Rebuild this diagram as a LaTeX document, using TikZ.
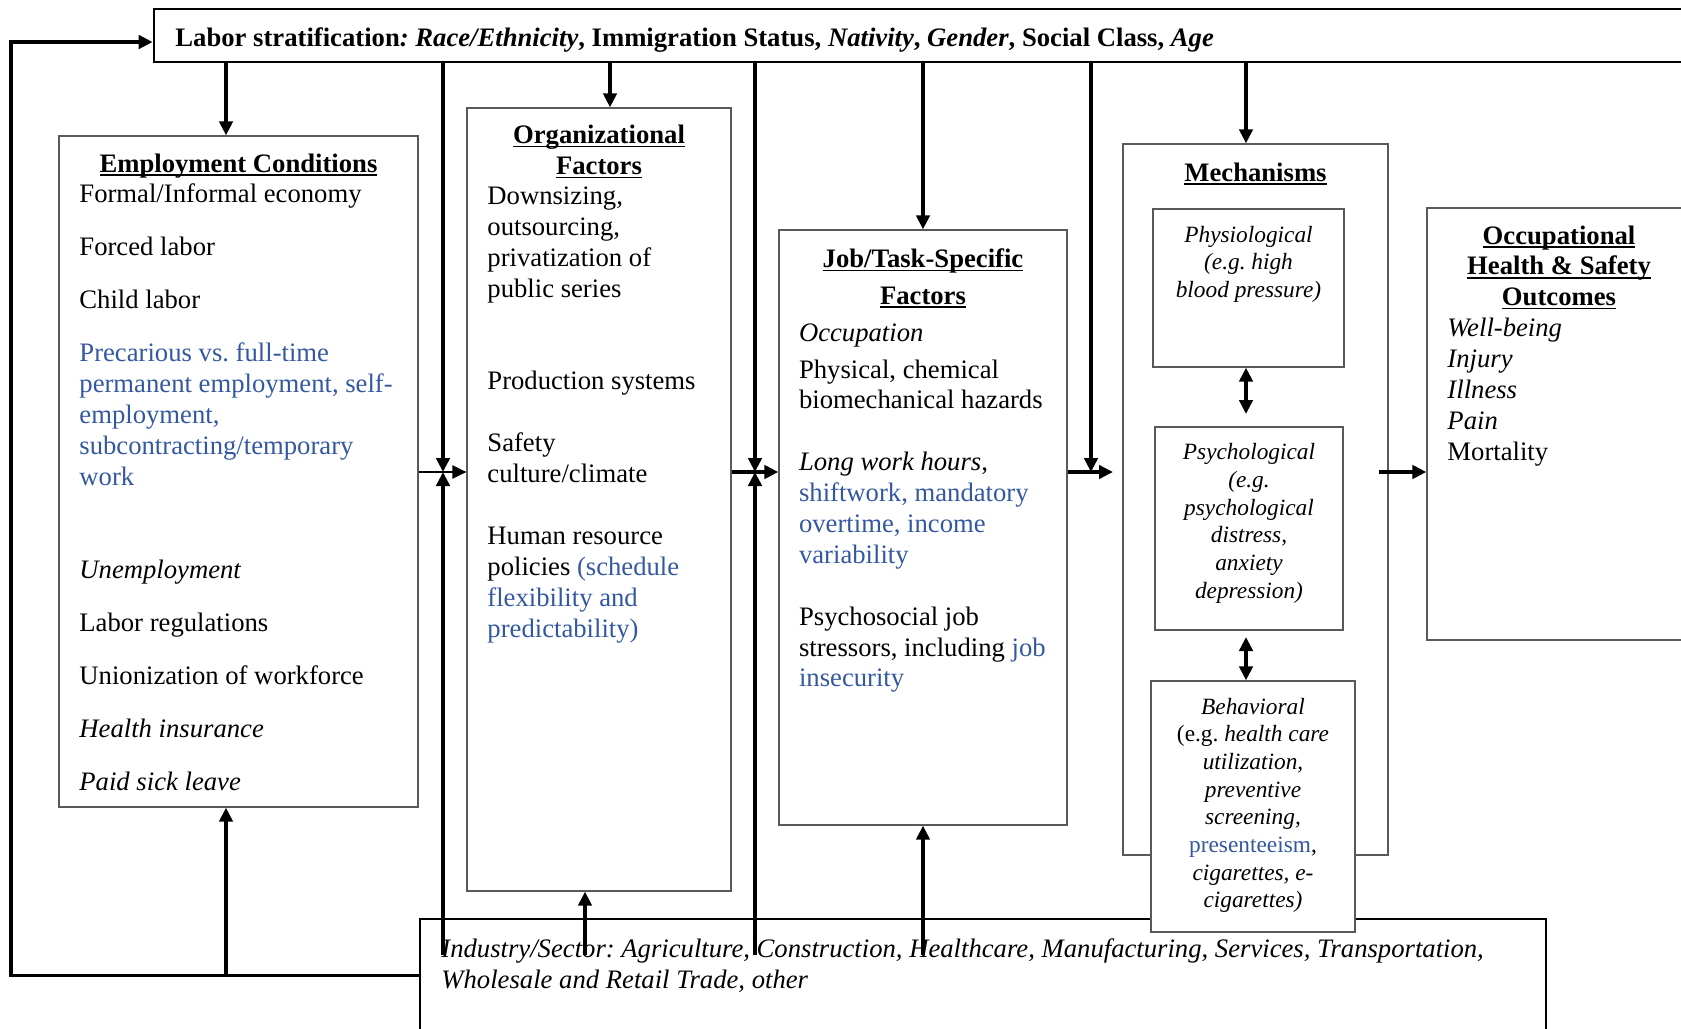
\documentclass[tikz,border=0pt]{standalone}
\usepackage{fontspec}
\setmainfont{Liberation Serif}
\usetikzlibrary{arrows.meta,fit,positioning}
\definecolor{noteblue}{RGB}{52,88,160}
% underline close under the baseline, as in the source
\newcommand{\ulhead}[1]{\setbox0\hbox{#1}\rlap{\rule[-1.6pt]{\wd0}{0.65pt}}\box0}
\frenchspacing

\begin{document}
\begin{tikzpicture}
  [x=0.45pt, y=-0.45pt,
  box/.style={draw=black!65, line width=0.6pt, inner sep=0pt},
  band/.style={draw=black, line width=1.2pt, inner sep=0pt},
  head/.style={anchor=north, inner sep=0pt, align=center, font=\fontsize{12}{13.9}\selectfont\bfseries},
  body/.style={anchor=north west, inner sep=0pt, align=left, font=\fontsize{12}{13.9}\selectfont},
  mechtext/.style={anchor=north, inner sep=0pt, align=center, font=\fontsize{10.5}{12.45}\selectfont\itshape},
  bigtip/.style={-{Triangle[length=6.3pt,width=6pt]}},
  flow/.style={line width=1.6pt, bigtip},
  twoway/.style={line width=1.6pt, {Triangle[length=6.3pt,width=6pt]}-{Triangle[length=6.3pt,width=6pt]}}]
  \clip (0,0) rectangle (1681,1028);

  % boxes
  \node (strat) [band, fit={(154,9) (1700,62)}] {};
  \node (emp) [box, fit={(59,136) (418,807)}] {};
  \node (org) [box, fit={(467,108) (731,891)}] {};
  \node (job) [box, fit={(779,230) (1067,825)}] {};
  \node (mech) [box, fit={(1123,144) (1388,855)}] {};
  \node (physio) [box, fit={(1153,209) (1344,367)}] {};
  \node (psycho) [box, fit={(1155,427) (1343,630)}] {};
  \node (outcome) [box, fit={(1427,208) (1691,640)}] {};
  \node (industry) [band, fit={(420,919) (1546,1032)}] {};
  \node (behav) [box, fill=white, fit={(1151,681) (1355,932)}] {};

  % texts
  \node (stratText) [body, font=\fontsize{12}{13.9}\selectfont\bfseries] at (175,24)
    {\strut Labor stratification\textit{: Race/Ethnicity}, Immigration Status, \textit{Nativity}, \textit{Gender}, Social Class, \textit{Age}};
  \node (empHead) [head] at (238.5,150) {\strut\ulhead{Employment Conditions}};
  \node (empText) [body] at (79,180.5) {\strut Formal/Informal economy\\[10pt]
    Forced labor\\[10pt]
    Child labor\\[10pt]
    \textcolor{noteblue}{Precarious vs. full-time}\\
    \textcolor{noteblue}{permanent employment, self-}\\
    \textcolor{noteblue}{employment,}\\
    \textcolor{noteblue}{subcontracting/temporary}\\
    \textcolor{noteblue}{work}\\[27.8pt]
    \textit{Unemployment}\\[10pt]
    Labor regulations\\[10pt]
    Unionization of workforce\\[10pt]
    \textit{Health insurance}\\[10pt]
    \textit{Paid sick leave}};
  \node (orgHead) [head] at (599,121.5) {\strut\ulhead{Organizational}\\\ulhead{Factors}};
  \node (orgText) [body] at (487,182.5) {\strut Downsizing,\\
    outsourcing,\\
    privatization of\\
    public series\\[27.8pt]
    Production systems\\[13.9pt]
    Safety\\
    culture/climate\\[13.9pt]
    Human resource\\
    policies \textcolor{noteblue}{(schedule}\\
    \textcolor{noteblue}{flexibility and}\\
    \textcolor{noteblue}{predictability)}};
  \node (jobHead) [head] at (923,245.8) {\strut\ulhead{Job/Task-Specific}\\[2.4pt]\ulhead{Factors}};
  \node (jobText) [body] at (798.6,319.8) {\strut\textit{Occupation}\\[2.4pt]
    Physical, chemical\\
    biomechanical hazards\\[13.9pt]
    \textit{Long work hours},\\
    \textcolor{noteblue}{shiftwork, mandatory}\\
    \textcolor{noteblue}{overtime, income}\\
    \textcolor{noteblue}{variability}\\[13.9pt]
    Psychosocial job\\
    stressors, including \textcolor{noteblue}{job}\\
    \textcolor{noteblue}{insecurity}};
  \node (mechHead) [head] at (1255.5,159) {\strut\ulhead{Mechanisms}};
  \node (physioText) [mechtext] at (1248.5,222.5) {\strut Physiological\\(e.g. high\\blood pressure)};
  \node (psychoText) [mechtext] at (1249,440) {\strut Psychological\\(e.g.\\psychological\\distress,\\anxiety\\depression)};
  \node (behavText) [mechtext] at (1253,694.5) {\strut Behavioral\\
    \textup{(e.g.} health care\\
    utilization,\\
    preventive\\
    screening,\\
    \textup{\textcolor{noteblue}{presenteeism},}\\
    cigarettes, e-\\
    cigarettes)};
  \node (outHead) [head] at (1559,222) {\strut\ulhead{Occupational}\\\ulhead{Health \& Safety}\\\ulhead{Outcomes}};
  \node (outText) [body] at (1447,314.5) {\strut\textit{Well-being}\\
    \textit{Injury}\\
    \textit{Illness}\\
    \textit{Pain}\\
    Mortality};
  \node (indText) [body, font=\fontsize{12}{14}\selectfont\itshape] at (441,935.5)
    {\strut Industry/Sector: Agriculture, Construction, Healthcare, Manufacturing, Services, Transportation,\\
    Wholesale and Retail Trade, other};

  % connectors
  \coordinate (j1) at (443,472);
  \coordinate (j2) at (755,472);
  \coordinate (j3) at (1091,472);
  \coordinate (indIn) at (0,955);
  \coordinate (loopL) at (11,42);
  \coordinate (empIn) at (226,0);
  \coordinate (orgIn) at (610,0);
  \coordinate (orgUp) at (585,0);
  \coordinate (mechIn) at (1246,0);
  \coordinate (mechTip) at (1113,472);
  \coordinate (mechOut) at (1379,472);
  \coordinate (psyTop) at (1246,414);
  \coordinate (psyBot) at (1246,637);

  \draw[flow] (industry.west) -| (loopL) -- (loopL -| strat.west);
  \draw[flow] (empIn |- industry.west) -- (empIn |- emp.south);
  \draw[flow] (empIn |- strat.south) -- (empIn |- emp.north);
  \draw[flow] (orgIn |- strat.south) -- (orgIn |- org.north);
  \draw[flow] (strat.south -| j1) -- (j1);
  \draw[flow] (indIn -| j1) -- (j1);
  \draw[line width=0.6pt, bigtip] (emp.east |- j1) -- (org.west |- j1);
  \draw[flow] (indIn -| orgUp) -- (orgUp |- org.south);
  \draw[flow] (strat.south -| j2) -- (j2);
  \draw[flow] (indIn -| j2) -- (j2);
  \draw[flow] (org.east |- j2) -- (job.west |- j2);
  \draw[flow] (strat.south -| job.north) -- (job.north);
  \draw[flow] (indIn -| job.south) -- (job.south);
  \draw[flow] (strat.south -| j3) -- (j3);
  \draw[flow] (job.east |- j3) -- (mechTip);
  \draw[flow] (mechIn |- strat.south) -- (mechIn |- mech.north);
  \draw[twoway] (mechIn |- physio.south) -- (psyTop);
  \draw[twoway] (psyBot) -- (mechIn |- behav.north);
  \draw[flow] (mechOut) -- (outcome.west |- j3);
\end{tikzpicture}
\end{document}
